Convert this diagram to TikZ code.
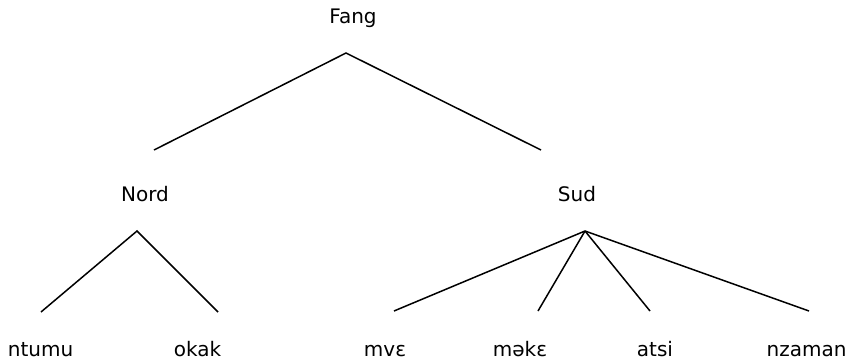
\documentclass[tikz,border=0pt]{standalone}
\usepackage{fontspec}
\setmainfont{DejaVu Sans}
\begin{document}
\begin{tikzpicture}[x=1pt,y=-1pt,
  lbl/.style={inner sep=0pt,anchor=base,font=\fontsize{20}{24}\selectfont},
  br/.style={line width=1.5pt}]
\useasboundingbox (0,0) rectangle (849,362);
\node[lbl] (fang) at (353,23) {Fang};
\node[lbl] (nord) at (145,201) {Nord};
\node[lbl] (sud) at (577,201) {Sud};
\node[lbl] (ntumu) at (40.5,356) {ntumu};
\node[lbl] (okak) at (197.5,356) {okak};
\node[lbl] (mve) at (385,356) {mvɛ};
\node[lbl] (meke) at (520,356) {məkɛ};
\node[lbl] (atsi) at (655,356) {atsi};
\node[lbl] (nzaman) at (806.5,356) {nzaman};
\coordinate (fA) at (346,53);
\coordinate (nA) at (137,231);
\coordinate (sA) at (585,231);
\coordinate (fL) at (154,150);
\coordinate (fR) at (541,150);
\coordinate (nL) at (41,312);
\coordinate (nR) at (218,312);
\coordinate (s1) at (394,311);
\coordinate (s2) at (538,311);
\coordinate (s3) at (650,311);
\coordinate (s4) at (809,311);
\draw[br] (fL) -- (fA) -- (fR);
\draw[br] (nL) -- (nA) -- (nR);
\draw[br] (sA) -- (s1);
\draw[br] (sA) -- (s2);
\draw[br] (sA) -- (s3);
\draw[br] (sA) -- (s4);
\end{tikzpicture}
\end{document}
